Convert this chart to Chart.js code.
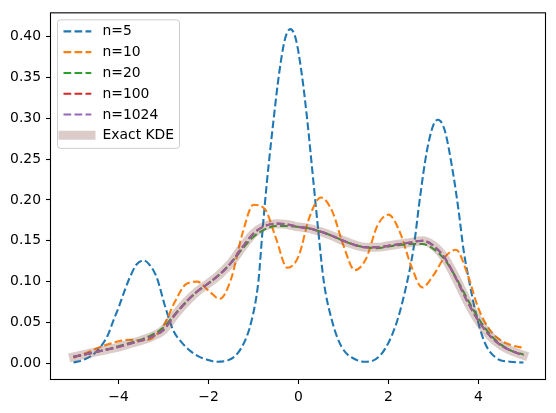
<!DOCTYPE html>
<html>
<head>
<meta charset="utf-8">
<script src="https://cdn.jsdelivr.net/npm/chart.js@4.4.1/dist/chart.umd.min.js"></script>
<style>
  html, body { margin: 0; padding: 0; background: #fff; }
</style>
</head>
<body>
<canvas id="kde-chart" width="556" height="413"></canvas>
<script>
// shared x grid for the smooth curves
const xGrid = [-5, -4.75, -4.5, -4.25, -4, -3.75, -3.5, -3.25, -3, -2.75, -2.5, -2.25, -2, -1.75, -1.5, -1.25, -1, -0.75, -0.5, -0.25,
  0, 0.25, 0.5, 0.75, 1, 1.25, 1.5, 1.75, 2, 2.25, 2.5, 2.75, 3, 3.25, 3.5, 3.75, 4, 4.25, 4.5, 4.75, 5];

// n=5 has narrow peaks, so it gets its own x points
const n5X = [-5.0, -4.75, -4.5, -4.25, -4.11, -4.0, -3.89, -3.75, -3.6, -3.44, -3.3, -3.15, -2.96, -2.78, -2.6, -2.4, -2.2, -2.0, -1.85,
  -1.56, -1.26, -1.04, -0.89, -0.80, -0.70, -0.55, -0.43, -0.30, -0.18, -0.06, 0.07, 0.19, 0.33, 0.44, 0.56, 0.74, 0.96, 1.30, 1.52,
  1.85, 2.15, 2.37, 2.56, 2.70, 2.85, 3.0, 3.1, 3.25, 3.44, 3.56, 3.67, 3.82, 3.96, 4.15, 4.41, 4.7, 5.0];
const n5Y = [0.001, 0.005, 0.014, 0.033, 0.053, 0.068, 0.085, 0.105, 0.121, 0.126, 0.120, 0.105, 0.069, 0.040, 0.026, 0.015, 0.008, 0.004, 0.002,
  0.004, 0.020, 0.053, 0.101, 0.162, 0.223, 0.300, 0.355, 0.397, 0.409, 0.397, 0.355, 0.300, 0.223, 0.162, 0.101, 0.053, 0.020, 0.004, 0.002,
  0.012, 0.045, 0.089, 0.142, 0.203, 0.259, 0.292, 0.298, 0.285, 0.231, 0.186, 0.138, 0.093, 0.057, 0.024, 0.006, 0.002, 0.001];

const n10Y = [0.007, 0.012, 0.018, 0.023, 0.027, 0.029, 0.028, 0.031, 0.046, 0.075, 0.097, 0.100, 0.089, 0.079, 0.103, 0.158, 0.194, 0.189, 0.153, 0.117,
  0.131, 0.180, 0.203, 0.186, 0.144, 0.114, 0.128, 0.168, 0.182, 0.161, 0.120, 0.093, 0.108, 0.130, 0.139, 0.110, 0.067, 0.041, 0.028, 0.022, 0.019];

const n20Y = [0.008, 0.011, 0.014, 0.017, 0.021, 0.025, 0.029, 0.035, 0.044, 0.060, 0.075, 0.088, 0.098, 0.109, 0.123, 0.140, 0.155, 0.164, 0.168, 0.168,
  0.167, 0.165, 0.161, 0.156, 0.150, 0.145, 0.142, 0.141, 0.143, 0.145, 0.146, 0.146, 0.140, 0.127, 0.105, 0.079, 0.055, 0.036, 0.023, 0.015, 0.011];

const n100Y = [0.008, 0.011, 0.014, 0.017, 0.020, 0.024, 0.028, 0.033, 0.041, 0.059, 0.075, 0.088, 0.098, 0.109, 0.123, 0.142, 0.159, 0.168, 0.171, 0.170,
  0.167, 0.165, 0.161, 0.156, 0.150, 0.145, 0.142, 0.142, 0.144, 0.146, 0.148, 0.150, 0.144, 0.129, 0.104, 0.076, 0.052, 0.034, 0.022, 0.015, 0.010];

const n1024Y = [0.008, 0.011, 0.014, 0.017, 0.020, 0.024, 0.028, 0.033, 0.041, 0.059, 0.075, 0.088, 0.098, 0.109, 0.123, 0.142, 0.159, 0.168, 0.171, 0.170,
  0.167, 0.165, 0.161, 0.156, 0.150, 0.145, 0.142, 0.142, 0.144, 0.146, 0.148, 0.150, 0.144, 0.129, 0.104, 0.076, 0.052, 0.034, 0.022, 0.015, 0.010];

const exactY = [0.008, 0.011, 0.014, 0.017, 0.020, 0.024, 0.028, 0.033, 0.041, 0.059, 0.075, 0.088, 0.098, 0.109, 0.123, 0.142, 0.159, 0.168, 0.171, 0.170,
  0.167, 0.165, 0.161, 0.156, 0.150, 0.145, 0.142, 0.142, 0.144, 0.146, 0.148, 0.150, 0.144, 0.129, 0.104, 0.076, 0.052, 0.034, 0.022, 0.015, 0.010];

const xTicks = [-4, -2, 0, 2, 4];
const yTicks = [0, 0.05, 0.10, 0.15, 0.20, 0.25, 0.30, 0.35, 0.40];

const FONT = "'DejaVu Sans', sans-serif";
const FONT_SIZE = 13.9;
const DASH = [7.7, 3.3];

function pts(xs, ys) {
  return ys.map((y, i) => ({ x: xs[i], y: y }));
}

function dashed(label, color, xs, ys, order) {
  return {
    label: label,
    data: pts(xs, ys),
    borderColor: color,
    borderWidth: 2.08,
    borderDash: DASH,
    pointRadius: 0,
    fill: false,
    showLine: true,
    cubicInterpolationMode: "monotone",
    order: order,
  };
}

const datasets = [
  dashed("n=5", "#1f77b4", n5X, n5Y, 6),
  dashed("n=10", "#ff7f0e", xGrid, n10Y, 5),
  dashed("n=20", "#2ca02c", xGrid, n20Y, 4),
  dashed("n=100", "#d62728", xGrid, n100Y, 3),
  dashed("n=1024", "#9467bd", xGrid, n1024Y, 2),
  {
    label: "Exact KDE",
    data: pts(xGrid, exactY),
    borderColor: "rgba(140, 86, 75, 0.3)",
    borderWidth: 9,
    borderCapStyle: "square",
    pointRadius: 0,
    fill: false,
    showLine: true,
    cubicInterpolationMode: "monotone",
    order: 1,
  },
];

// box round the axes plus a matplotlib style legend in the upper left
const frameAndLegend = {
  id: "frameAndLegend",
  afterDraw(chart) {
    const ctx = chart.ctx;
    const a = chart.chartArea;
    ctx.save();
    ctx.strokeStyle = "#000";
    ctx.lineWidth = 1.1;
    ctx.strokeRect(a.left - 0.5, a.top - 0.5, a.right - a.left, a.bottom - a.top + 1);

    // legend frame
    const fx = a.left + 6.5, fy = a.top + 6.5, fw = 122, fh = 128.5;
    ctx.beginPath();
    ctx.roundRect(fx, fy, fw, fh, 3);
    ctx.fillStyle = "rgba(255,255,255,0.8)";
    ctx.fill();
    ctx.strokeStyle = "#cccccc";
    ctx.lineWidth = 1;
    ctx.stroke();

    ctx.font = FONT_SIZE + "px " + FONT;
    ctx.textBaseline = "middle";
    ctx.textAlign = "left";
    chart.data.datasets.forEach((ds, i) => {
      const y = a.top + 18 + i * 20.8;
      ctx.beginPath();
      ctx.strokeStyle = ds.borderColor;
      ctx.lineWidth = ds.borderWidth;
      if (ds.borderDash) {
        ctx.setLineDash(ds.borderDash);
        ctx.lineCap = "butt";
        ctx.moveTo(a.left + 12.5, y);
        ctx.lineTo(a.left + 40.3, y);
      } else {
        ctx.setLineDash([]);
        ctx.lineCap = "square";
        ctx.moveTo(a.left + 12, y);
        ctx.lineTo(a.left + 40, y);
      }
      ctx.stroke();
      ctx.setLineDash([]);
      ctx.fillStyle = "#000";
      ctx.fillText(ds.label, a.left + 51.5, y + 0.5);
    });
    ctx.restore();
  },
};

const ctx = document.getElementById("kde-chart").getContext("2d");
new Chart(ctx, {
  type: "scatter",
  data: { datasets: datasets },
  options: {
    responsive: false,
    animation: false,
    devicePixelRatio: 1,
    layout: { padding: { left: 0, top: 11, right: 10, bottom: 0 } },
    plugins: { legend: { display: false }, tooltip: { enabled: false } },
    scales: {
      x: {
        type: "linear",
        min: -5.5,
        max: 5.5,
        afterBuildTicks: (scale) => { scale.ticks = xTicks.map((v) => ({ value: v })); },
        afterFit: (scale) => { scale.height = 34; },
        ticks: {
          color: "#000",
          font: { family: FONT, size: FONT_SIZE },
          padding: 5,
          maxRotation: 0,
          autoSkip: false,
          callback: (v) => (v < 0 ? "\u2212" + Math.abs(v) : String(v)),
        },
        grid: { display: true, drawOnChartArea: false, drawTicks: true, tickLength: 5, tickWidth: 1.1, color: "#000" },
        border: { display: false },
      },
      y: {
        type: "linear",
        min: -0.0191,
        max: 0.4283,
        afterBuildTicks: (scale) => { scale.ticks = yTicks.map((v) => ({ value: v })); },
        afterFit: (scale) => { scale.width = 51; },
        ticks: {
          color: "#000",
          font: { family: FONT, size: FONT_SIZE },
          padding: 5,
          autoSkip: false,
          callback: (v) => v.toFixed(2),
        },
        grid: { display: true, drawOnChartArea: false, drawTicks: true, tickLength: 5, tickWidth: 1.1, color: "#000" },
        border: { display: false },
      },
    },
  },
  plugins: [frameAndLegend],
});
</script>
</body>
</html>
